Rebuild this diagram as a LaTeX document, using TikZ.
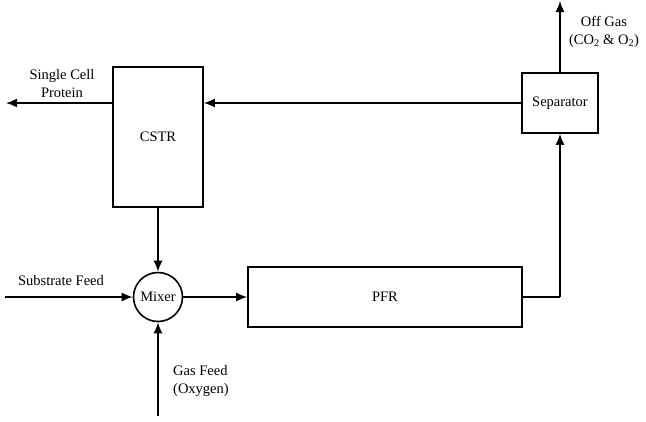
\documentclass[tikz,border=0pt]{standalone}
\usepackage{fontspec}
\setmainfont{Liberation Serif}
\usetikzlibrary{arrows.meta}
\begin{document}
\begin{tikzpicture}[x=1pt,y=-1pt,
  unit/.style={draw,line width=1.6pt,inner sep=0pt,font=\fontsize{14.5}{17}\selectfont},
  flow/.style={line width=1.6pt,-{Latex[length=11pt,width=9pt]}},
  pipe/.style={line width=1.6pt},
  lbl/.style={font=\fontsize{14.5}{18}\selectfont,align=center,inner sep=0pt}]
\useasboundingbox (0,0) rectangle (646,421);
\node[unit,minimum width=90pt,minimum height=140pt] (cstr) at (158,137) {CSTR};
\node[unit,minimum width=76pt,minimum height=60pt] (sep) at (560,103) {Separator};
\node[unit,circle,minimum size=49pt] (mix) at (158,297) {Mixer};
\node[unit,minimum width=274pt,minimum height=60pt] (pfr) at (385,297) {PFR};
\coordinate (scp) at (6,103);
\coordinate (off) at (560,1);
\coordinate (sub) at (5,297);
\coordinate (gas) at (158,416);
\coordinate (bend) at (560,297);
\draw[flow] (cstr.west |- scp) -- (scp);
\draw[flow] (sep.west) -- (cstr.east |- sep.west);
\draw[flow] (sep.north) -- (off);
\draw[flow] (cstr.south) -- (mix.north);
\draw[flow] (sub) -- (mix.west);
\draw[flow] (gas) -- (mix.south);
\draw[flow] (mix.east) -- (pfr.west);
\draw[pipe] (pfr.east) -- (bend);
\draw[flow] (bend) -- (sep.south);
\node[lbl] (lscp) at (62,84) {Single Cell\\Protein};
\node[lbl] (loff) at (604,32) {Off Gas\\(CO\textsubscript{2} \& O\textsubscript{2})};
\node[lbl] (lsub) at (61,281) {Substrate Feed};
\node[lbl,align=left,anchor=west] (lgas) at (173,381) {Gas Feed\\(Oxygen)};
\end{tikzpicture}
\end{document}
